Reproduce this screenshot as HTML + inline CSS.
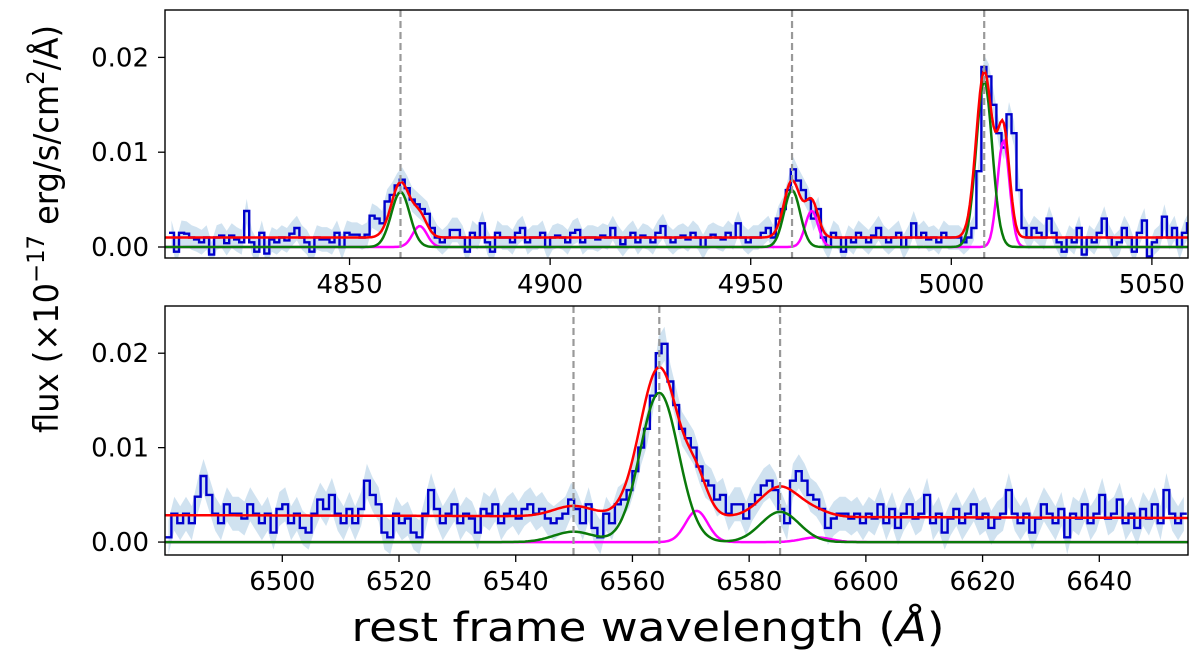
<!DOCTYPE html>
<html><head><meta charset="utf-8"><style>
html,body{margin:0;padding:0;background:#fff;width:1200px;height:655px;overflow:hidden}
svg{display:block;font-family:"DejaVu Sans","Liberation Sans",sans-serif}
</style></head><body>
<svg id="chart" width="1200" height="655" viewBox="0 0 1200 655" xmlns="http://www.w3.org/2000/svg">
<text transform="translate(58,229) rotate(-90)" text-anchor="middle" font-size="34" textLength="408" lengthAdjust="spacingAndGlyphs">flux (×10<tspan dy="-14" font-size="24">−17</tspan><tspan dy="14"> erg/s/cm</tspan><tspan dy="-14" font-size="24">2</tspan><tspan dy="14">/Å)</tspan></text>
<text x="648" y="641" text-anchor="middle" font-size="40" textLength="593" lengthAdjust="spacingAndGlyphs">rest frame wavelength (<tspan font-style="italic">Å</tspan>)</text>
</svg>
<script>
// ---- data (flux in units of 1e-3) ----
const topStart = 4805, topBin = 1.25;
const topFlux = [1.5,-0.5,1.5,1.4,1,0.8,0.5,1,-0.8,1,1.2,0.4,1.2,0.8,0.5,3.8,0.5,-0.5,1.5,-0.7,0.8,0.5,1,0.7,1.4,2,1,0.5,-0.5,1,0.8,0.8,0.5,1.5,0,1.5,
 1.3,1.3,1,1.3,3.3,3,2.5,4.8,5.5,6.5,7.1,6.2,5,4.5,4,3.5,2,1,0.5,1,
 1.8,1.8,1,-0.5,1.5,1,2.5,0.5,-0.5,1.5,1,1,0.5,1.5,2,0.5,1,1,1.5,0,1,1.2,1,0.5,1.5,1.8,0.5,1,1,0.8,1.2,1,2,1,0.3,1,1.5,0.5,1.2,1,0.5,1.5,2.2,1,0.5,1,1.2,0.8,1.5,1,0,1,1.3,1,0.8,1.5,1,2.5,1,0.5,
 1,1,1.5,2,1,3,4,6,8.2,7,6,5,3,4,1,0,
 1.5,1,-0.5,1,0.5,1.5,1,0.5,1.2,2,1,0.5,1,1.5,0,1,2.5,1,1.5,0.8,1,0.5,1.5,1,
 1,1,0.5,1,2,8,19,18,15,12,10.5,14,12,6,2,1,
 2,1.5,1,3,1.5,0.5,-0.5,1,0.5,2,-0.8,1,0.5,1.5,3,1,0,0.5,2,1,-0.5,1.5,2.8,-1,0.5,1,3.2,1,2,0,1.5,2.5];
const botStart = 6480, botBin = 1.0;
const botFlux = [0.5,3,2,3,2,4.8,7,5,3,2,4,3,3,2.5,4,3,2,3,1,3.5,4,2,3,1.5,1,3,4.5,3.5,5,3,2,3.5,2,3.5,6.5,5,4,1,0.5,3,2,2.5,1,0.5,3,5.5,3.5,2,3,4,2,3,2.5,1,3.5,3,4,2,3,3.5,
 2.5,3.5,4,3,3.5,2.5,2,2.5,3,4.5,3.5,2,4,1.5,0.5,3,2,4,4.5,5.5,7.5,10,12,15.5,20,21,17,14.5,12,11,10,8,6.5,6,4.5,5,3,4,4,2.5,4,5,6,6.5,5.5,3.5,2,6.5,7.5,6.5,5,4.5,3.5,1.5,2.5,3,3,2.5,3,2,
 3,2.5,4,2,3.5,1.5,3,4,2.5,3,5,2,3,1,2.5,3.5,2,3,4,2.5,3,1.5,2.5,3,5.5,3,2,3,1,2.5,4,3,2,3.5,0.5,3,2.5,4,2,3,5,2.5,3,4.5,2,3,1.5,3.5,2.5,4,2,5.5,3,2,3];
const topErr = [1.3];
const botErr = [1.8];
// model lines: [center, amplitude(1e-3), sigma]
const topGreen = [[4862.7,5.8,2.3],[4960.3,6.0,2.0],[5008.2,17.5,2.0]];
const topMagenta = [[4867.5,2.2,1.8],[4965.2,3.8,1.6],[5013.0,11.2,1.5]];
const topCont = [1.0,1.0];
const botGreen = [[6549.9,1.1,3.4],[6564.6,15.8,3.3],[6585.3,3.2,3.3]];
const botMagenta = [[6571.0,3.3,1.9],[6591.5,0.5,2.5]];
const botCont = [2.85,2.55];
const topLines = [4862.7,4960.3,5008.2];
const botLines = [6549.9,6564.6,6585.3];
const topTicks = [4850,4900,4950,5000,5050];
const botTicks = [6500,6520,6540,6560,6580,6600,6620,6640];
const yTicks = [0.00,0.01,0.02];

const svg = document.getElementById('chart');
const NS = 'http://www.w3.org/2000/svg';
function mk(tag, attrs){const e=document.createElementNS(NS,tag);for(const k in attrs)e.setAttribute(k,attrs[k]);return e;}

function panel(cfg){
  const X = w => cfg.x0 + (w-cfg.wmin)/(cfg.wmax-cfg.wmin)*(cfg.x1-cfg.x0);
  const Y = v => cfg.y1 - (v-cfg.vmin)/(cfg.vmax-cfg.vmin)*(cfg.y1-cfg.y0);
  const g = mk('g',{});
  
  
  svg.appendChild(g);
  const clipId = cfg.name+'-clip';
  const cp = mk('clipPath',{id:clipId}); cp.appendChild(mk('rect',{x:cfg.x0,y:cfg.y0,width:cfg.x1-cfg.x0,height:cfg.y1-cfg.y0}));
  g.appendChild(cp);
  const inner = mk('g',{'clip-path':'url(#'+clipId+')'}); g.appendChild(inner);
  const n = cfg.flux.length;
  let up='',dn='';
  for(let i=0;i<n;i++){const w=cfg.start+(i+0.5)*cfg.bin; const e=cfg.err[i%cfg.err.length];
    up+=(i?'L':'M')+X(w).toFixed(1)+','+Y((cfg.flux[i]+e)/1000).toFixed(1);}
  for(let i=n-1;i>=0;i--){const w=cfg.start+(i+0.5)*cfg.bin; const e=cfg.err[i%cfg.err.length];
    dn+='L'+X(w).toFixed(1)+','+Y((cfg.flux[i]-e)/1000).toFixed(1);}
  const band = mk('path',{d:up+dn+'Z',fill:'#b7d2e8','fill-opacity':'0.65',stroke:'none'});
  
  
  inner.appendChild(band);
  let d='';
  for(let i=0;i<n;i++){const a=cfg.start+i*cfg.bin,b=a+cfg.bin,y=Y(cfg.flux[i]/1000).toFixed(1);
    d+=(i?'L':'M')+X(a).toFixed(1)+','+y+'L'+X(b).toFixed(1)+','+y;}
  const step = mk('path',{d:d,fill:'none',stroke:'#0000cc','stroke-width':2.4});
  
  
  inner.appendChild(step);
  const gs=(comps,w)=>comps.reduce((s,c)=>s+c[1]*Math.exp(-0.5*((w-c[0])/c[2])**2),0);
  const cont=w=>cfg.cont[0]+(cfg.cont[1]-cfg.cont[0])*(w-cfg.wmin)/(cfg.wmax-cfg.wmin);
  function curve(fn,color,name){let p='';for(let k=0;k<=600;k++){const w=cfg.wmin+(cfg.wmax-cfg.wmin)*k/600;
    p+=(k?'L':'M')+X(w).toFixed(1)+','+Y(fn(w)/1000).toFixed(1);}
    const el=mk('path',{d:p,fill:'none',stroke:color,'stroke-width':2.5});
    
    
    inner.appendChild(el);}
  curve(w=>gs(cfg.mag,w),'#ff00ff','outflow-component');
  curve(w=>gs(cfg.green,w),'#0a7a0a','narrow-component');
  curve(w=>cont(w)+gs(cfg.green,w)+gs(cfg.mag,w),'#ff0000','total-fit');
  cfg.lines.forEach(w=>{const l=mk('line',{x1:X(w),x2:X(w),y1:cfg.y0,y2:cfg.y1,stroke:'#999','stroke-width':2.2,'stroke-dasharray':'7,4'});
    
    
    g.appendChild(l);});
  const fr=mk('rect',{x:cfg.x0,y:cfg.y0,width:cfg.x1-cfg.x0,height:cfg.y1-cfg.y0,fill:'none',stroke:'#000','stroke-width':1.4});
  
  
  g.appendChild(fr);
  cfg.ticks.forEach(t=>{const x=X(t);
    g.appendChild(mk('line',{x1:x,x2:x,y1:cfg.y1,y2:cfg.y1+7,stroke:'#000','stroke-width':1.3}));
    const tx=mk('text',{x:x,y:cfg.y1+35,'text-anchor':'middle','font-size':26}); tx.textContent=t;
    
    
    g.appendChild(tx);});
  yTicks.forEach(t=>{const y=Y(t);
    g.appendChild(mk('line',{x1:cfg.x0-7,x2:cfg.x0,y1:y,y2:y,stroke:'#000','stroke-width':1.3}));
    const tx=mk('text',{x:cfg.x0-16,y:y+9,'text-anchor':'end','font-size':26}); tx.textContent=t.toFixed(2);
    
    
    g.appendChild(tx);});
}
panel({name:'top-panel',x0:165,x1:1188,y0:10,y1:258,wmin:4804,wmax:5059,vmin:-0.00116,vmax:0.0250,
  start:topStart,bin:topBin,flux:topFlux,err:topErr,green:topGreen,mag:topMagenta,cont:topCont,lines:topLines,ticks:topTicks});
panel({name:'bottom-panel',x0:165,x1:1188,y0:306,y1:555,wmin:6479.9,wmax:6655.2,vmin:-0.00137,vmax:0.0250,
  start:botStart,bin:botBin,flux:botFlux,err:botErr,green:botGreen,mag:botMagenta,cont:botCont,lines:botLines,ticks:botTicks});
</script>
</body></html>
